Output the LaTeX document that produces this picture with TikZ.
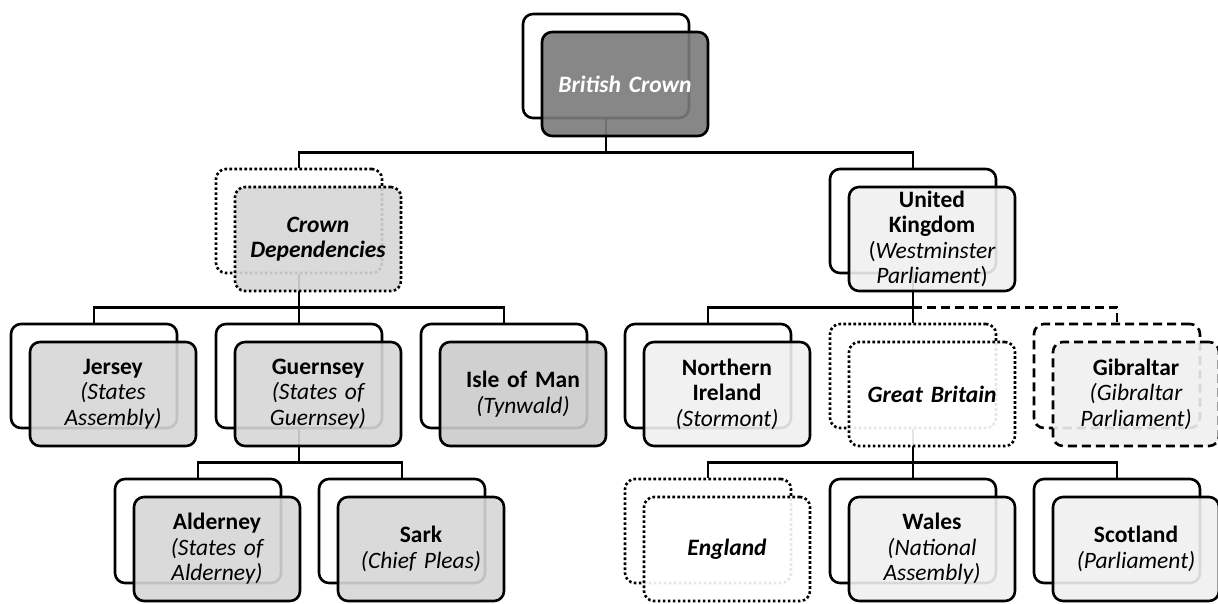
\documentclass[tikz,border=0pt]{standalone}
\usepackage{fontspec}
\setmainfont{Carlito}
\usetikzlibrary{backgrounds}
\definecolor{crownfill}{RGB}{122,122,122}
\definecolor{islefill}{RGB}{214,214,214}
\definecolor{manfill}{RGB}{203,203,203}
\definecolor{ukfill}{RGB}{240,240,240}
\tikzset{
  box/.style={draw, line width=2.6pt, rounded corners=10pt, minimum width=166pt, minimum height=104pt, inner sep=0pt},
  backbox/.style={box, fill=white},
  frontbox/.style={box, fill opacity=0.9, text opacity=1, align=center, text width=160pt, font=\fontsize{23.5}{25.5}\selectfont},
  dots/.style={dash pattern=on 2.6pt off 2.4pt},
  dashes/.style={dash pattern=on 9pt off 5pt},
  link/.style={line width=2.6pt}
}
\begin{document}
\begin{tikzpicture}[x=1pt, y=-1pt]
\useasboundingbox (0,0) rectangle (1218,603);
% back boxes
\node[backbox] (crownb) at (606,66){};
\node[backbox, dots] (cdb) at (299,221){};
\node[backbox] (ukb) at (913,221){};
\node[backbox] (jerb) at (94,376){};
\node[backbox] (gsyb) at (299,376){};
\node[backbox] (iomb) at (504,376){};
\node[backbox] (nib) at (708,376){};
\node[backbox, dots] (gbb) at (913,376){};
\node[backbox, dashes] (gibb) at (1117,376){};
\node[backbox] (aldb) at (198,531){};
\node[backbox] (sarkb) at (402,531){};
\node[backbox, dots] (engb) at (708,531){};
\node[backbox] (walb) at (913,531){};
\node[backbox] (scob) at (1117,531){};
% front boxes
\node[frontbox, fill=crownfill, text=white] (crown) at (625,84){\textbf{\textit{British Crown}}};
\node[frontbox, dots, fill=islefill] (cd) at (318,239){\textbf{\textit{Crown\\Dependencies}}};
\node[frontbox, fill=ukfill] (uk) at (932,239){\textbf{United\\Kingdom}\\(\textit{Westminster\\Parliament})};
\node[frontbox, fill=islefill] (jer) at (113,394){\textbf{Jersey}\\\textit{(States\\Assembly)}};
\node[frontbox, fill=islefill] (gsy) at (318,394){\textbf{Guernsey}\\\textit{(States of\\Guernsey)}};
\node[frontbox, fill=manfill] (iom) at (523,394){\textbf{Isle of Man}\\\textit{(Tynwald)}};
\node[frontbox, fill=ukfill] (ni) at (727,394){\textbf{Northern\\Ireland}\\\textit{(Stormont)}};
\node[frontbox, dots, fill=white] (gb) at (932,394){\textbf{\textit{Great Britain}}};
\node[frontbox, dashes, fill=ukfill] (gib) at (1136,394){\textbf{Gibraltar}\\\textit{(Gibraltar\\Parliament)}};
\node[frontbox, fill=islefill] (ald) at (217,549){\textbf{Alderney}\\\textit{(States of\\Alderney)}};
\node[frontbox, fill=islefill] (sark) at (421,549){\textbf{Sark}\\\textit{(Chief Pleas)}};
\node[frontbox, dots, fill=white] (eng) at (727,549){\textbf{\textit{England}}};
\node[frontbox, fill=ukfill] (wal) at (932,549){\textbf{Wales}\\\textit{(National\\Assembly)}};
\node[frontbox, fill=ukfill] (sco) at (1136,549){\textbf{Scotland}\\\textit{(Parliament)}};
% connectors
\begin{scope}[on background layer]
\draw[link] (crownb.south) -- ++(0,33) -| (cdb.north);
\draw[link] (crownb.south) ++(0,33) -| (ukb.north);
\draw[link] (cdb.south) -- ++(0,33) -| (jerb.north);
\draw[link] (cdb.south) ++(0,33) -| (gsyb.north);
\draw[link] (cdb.south) ++(0,33) -| (iomb.north);
\draw[link] (ukb.south) -- ++(0,33) -| (nib.north);
\draw[link] (ukb.south) ++(0,33) -| (gbb.north);
\draw[link, dashes] (ukb.south) ++(0,33) -| (gibb.north);
\draw[link] (gsyb.south) -- ++(0,33) -| (aldb.north);
\draw[link] (gsyb.south) ++(0,33) -| (sarkb.north);
\draw[link] (gbb.south) -- ++(0,33) -| (engb.north);
\draw[link] (gbb.south) ++(0,33) -| (walb.north);
\draw[link] (gbb.south) ++(0,33) -| (scob.north);
\end{scope}
\end{tikzpicture}
\end{document}
